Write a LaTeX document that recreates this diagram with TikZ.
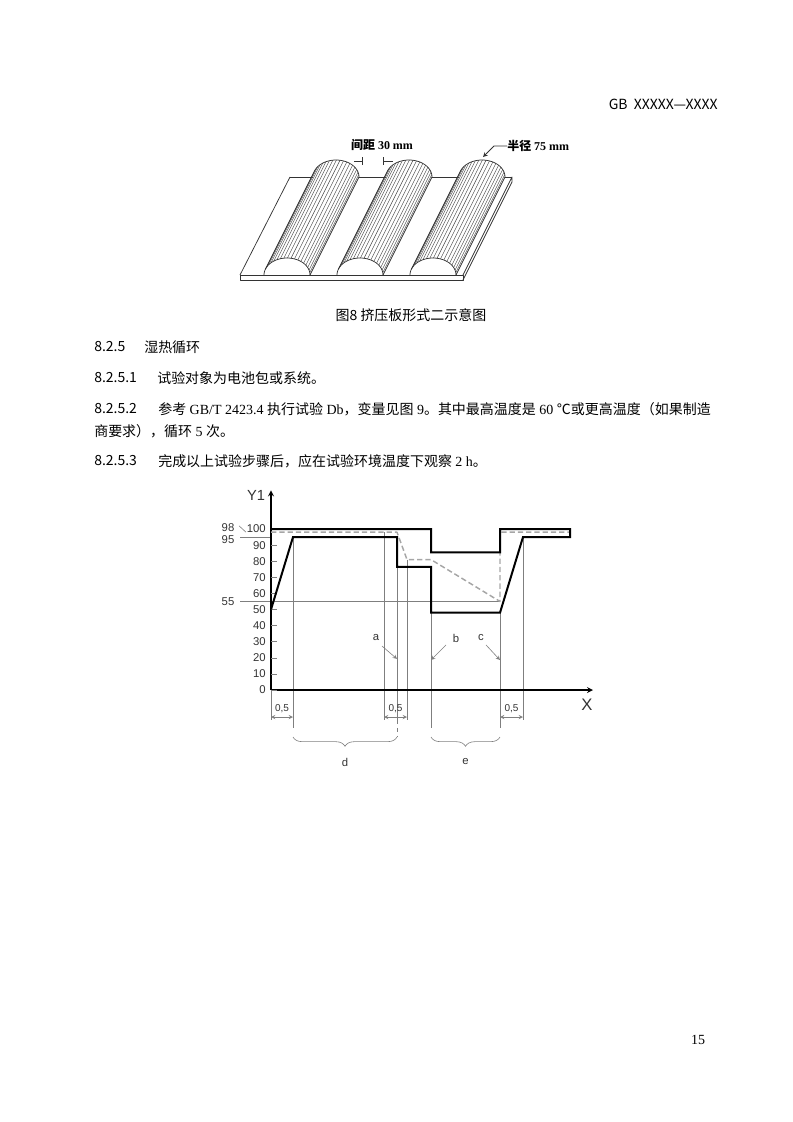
\documentclass[tikz,border=0pt]{standalone}
\usepackage{fontspec}
\setmainfont{Liberation Serif}
\newfontfamily\cjk{Noto Sans CJK SC}
\newfontfamily\arial{Liberation Sans}
\usetikzlibrary{decorations.pathreplacing}
\definecolor{thinGray}{HTML}{7F7F7F}
\definecolor{dashGray}{HTML}{A6A6A6}
\definecolor{numGray}{HTML}{333333}
\tikzset{
  body/.style={anchor=west,inner sep=0pt,font=\fontsize{10.5}{12}\selectfont},
  thinline/.style={thinGray,line width=0.45pt},
  profile/.style={black,line width=1.5pt,line join=miter},
  dashprofile/.style={dashGray,line width=1.1pt,dash pattern=on 4pt off 2.2pt},
  plateline/.style={black!80,line width=0.55pt},
  hatchline/.style={black!70,line width=0.35pt},
  axislabel/.style={inner sep=0pt,text=numGray,font=\arial\fontsize{8.5}{10}\selectfont}
}
\begin{document}
\begin{tikzpicture}[x=0.7507pt,y=-0.7507pt,line join=round,>=stealth]
\useasboundingbox (0,0) rectangle (793,1122);
%页眉
\node[anchor=east,inner sep=0pt,font=\cjk\fontsize{10.5}{12}\selectfont] (hdr) at (718,104) {GB\hspace{0.45em}XXXXX—XXXX};
%挤压板
\draw[plateline] (240,275) -- (463,275) -- (463,280) -- (240,280) -- cycle;
\draw[plateline] (240,275) -- (290,177);
\draw[plateline] (463,275) -- (512,177) -- (512,182) -- (463,280);
\draw[plateline] (290,177) -- (313,177) (359,177) -- (386,177) (432,177) -- (459,177) (505,177) -- (512,177);
\foreach \cx in {287,360,433} {
  \foreach \t in {8,17,...,152}
    \draw[hatchline] ({\cx+23*cos(\t)},{275-17*sin(\t)}) -- ++(49,-98);
  \draw[plateline] plot[domain=0:180,samples=37] ({\cx+23*cos(\x)},{275-17*sin(\x)});
  \draw[plateline] plot[domain=0:160,samples=33] ({\cx+49+23*cos(\x)},{177-17*sin(\x)});
  \draw[plateline] (\cx+23,275) -- ++(49,-98);
  \draw[plateline] ({\cx+23*cos(160)},{275-17*sin(160)}) -- ++(49,-98);
}
\draw[plateline] (354,161) -- (362,161) (362,157) -- (362,165) (383,157) -- (383,165) (383,161) -- (393,161);
\node[inner sep=0pt,font=\fontsize{9}{10}\selectfont\bfseries] (gap) at (382,145) {{\cjk 间距} 30 mm};
\node[anchor=west,inner sep=0pt,font=\fontsize{9}{10}\selectfont\bfseries] (rad) at (507,146) {{\cjk 半径} 75 mm};
\coordinate (radtip) at (483,157);
\draw[plateline,->] (rad.west) -- ++(-13,0) -- (radtip);
\node[inner sep=0pt,font=\cjk\fontsize{10.5}{12}\selectfont] (cap) at (411,315) {图8 挤压板形式二示意图};
%正文
\node[body,font=\cjk\fontsize{10.5}{12}\selectfont] (n1) at (94,347) {8.2.5};
\node[body,font=\cjk\fontsize{10.5}{12}\selectfont] (t1) at (144,347) {湿热循环};
\node[body,font=\cjk\fontsize{10.5}{12}\selectfont] (n2) at (94,378) {8.2.5.1};
\node[body,font=\cjk\fontsize{10.5}{12}\selectfont] (t2) at (157,378) {试验对象为电池包或系统。};
\node[body,font=\cjk\fontsize{10.5}{12}\selectfont] (n3) at (94,409) {8.2.5.2};
\node[body] (t3) at (158,409) {{\cjk 参考} GB/T 2423.4 {\cjk 执行试验} Db{\cjk ，变量见图} 9{\cjk 。其中最高温度是} 60 {\cjk ℃或更高温度（如果制造}};
\node[body] (t3b) at (94,431) {{\cjk 商要求），循环} 5 {\cjk 次。}};
\node[body,font=\cjk\fontsize{10.5}{12}\selectfont] (n4) at (94,461) {8.2.5.3};
\node[body] (t4) at (158,461) {{\cjk 完成以上试验步骤后，应在试验环境温度下观察} 2 h{\cjk 。}};
%图9
\begin{scope}[shift={(271,690)},y=1.2086pt]
  \draw[thinline] (-31,55) -- (229,55);
  \draw[thinline] (-31,95) -- (0,95);
  \draw[thinline] (-32,102) -- (-25,98);
  \foreach \px/\ya/\yb in {0/0/-18.6,22/95/-23.6,113/98/-18.6,126/76.5/-18.6,136/81/-18.6,160/48/-23.6,229/48/-23.6,252/95/-18.6}
    \draw[thinline] (\px,\ya) -- (\px,\yb);
  \draw[thinline,dashed] (126,-18.6) -- (126,-29);
  \foreach \a/\b in {0/22,113/136,229/252} {
    \draw[thinline,<->] (\a,-16.8) -- (\b,-16.8);
    \node[inner sep=0pt,text=numGray,font=\arial\fontsize{7.5}{8}\selectfont] (dim\a) at ({(\a+\b)/2},-11.3) {0,5};
  }
  %坐标轴
  \draw[line width=1pt,->] (0,0) -- (322,0);
  \draw[line width=1pt,->] (0,0) -- (0,124);
  \foreach \v in {0,10,...,100} {
    \draw[thinline] (0,\v) -- (6,\v);
    \node[axislabel,anchor=east] (yt\v) at (-5,\v) {\v};
  }
  \node[axislabel] (l98) at (-43,100.8) {98};
  \node[axislabel] (l95) at (-43,93.2) {95};
  \node[axislabel] (l55) at (-43,55) {55};
  \node[inner sep=0pt,text=numGray,font=\arial\fontsize{11}{12}\selectfont] (ylab) at (-15,121) {Y1};
  \node[inner sep=0pt,text=numGray,font=\arial\fontsize{12.5}{14}\selectfont] (xlab) at (316,-9.3) {X};
  %曲线
  \draw[dashprofile] (0,98) -- (126,98) -- (136,81) -- (160,81) -- (229,55) -- (229,98) -- (299,98);
  \draw[profile] (0,100) -- (160,100) -- (160,85.5) -- (229,85.5) -- (229,100) -- (299,100) -- (299,95) -- (252,95) -- (229,48) -- (160,48) -- (160,76.5) -- (126,76.5) -- (126,95) -- (22,95) -- (0,50);
  %标注
  \node[axislabel] (la) at (105,32.3) {a};
  \node[axislabel] (lb) at (185,32.3) {b};
  \node[axislabel] (lc) at (210,32.3) {c};
  \coordinate (pa) at (126,19.3);
  \coordinate (pb) at (160,18.6);
  \coordinate (pc) at (229,18.6);
  \draw[thinline,->] (111,27.3) -- (pa);
  \draw[thinline,->] (175,28) -- (pb);
  \draw[thinline,->] (215,28) -- (pc);
  \draw[thinline,decorate,decoration={brace,amplitude=7pt}] (126,-29.2) -- (22,-29.2);
  \draw[thinline,decorate,decoration={brace,amplitude=7pt}] (229,-29.2) -- (160,-29.2);
  \node[axislabel] (ld) at (74,-44.7) {d};
  \node[axislabel] (le) at (194.5,-44.7) {e};
\end{scope}
\node[inner sep=0pt,font=\fontsize{10.5}{12}\selectfont] (pg) at (698,1040) {15};
\end{tikzpicture}
\end{document}
